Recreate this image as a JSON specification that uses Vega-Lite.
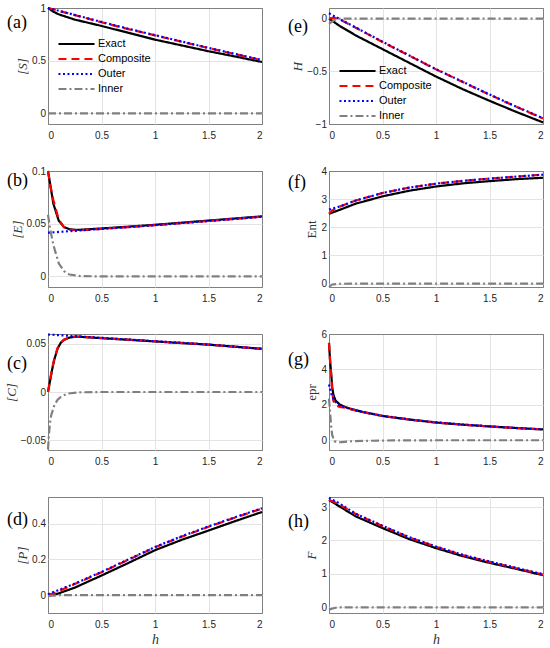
{
"$schema": "https://vega.github.io/schema/vega-lite/v6.json",
"padding": {"left": 4, "top": 2, "right": 4, "bottom": 0},
"columns": 2,
"bounds": "flush",
"spacing": {"row": 47, "column": 67},
"resolve": {"scale": {"color": "independent", "strokeDash": "independent"}},
"config": {
  "view": {"stroke": "#808080", "strokeWidth": 1},
  "axis": {"grid": true, "gridColor": "#e3e3e3", "ticks": false, "domain": false, "format": "~g", "labelFont": "Liberation Sans", "labelFontSize": 10, "labelColor": "#262626", "titleFont": "Liberation Serif", "titleFontSize": 13, "titleFontWeight": "normal", "titleColor": "#333333"},
  "axisY": {"titleFontStyle": "italic", "titlePadding": 2, "labelPadding": 2.5},
  "axisX": {"titleFontStyle": "italic", "titlePadding": 3, "titleFontSize": 14, "labelPadding": 6},
  "title": {"font": "Liberation Serif", "fontSize": 18, "fontWeight": "normal", "color": "#000000", "anchor": "start", "frame": "group", "baseline": "top", "dx": -41, "offset": 0},
  "line": {"strokeWidth": 2.2, "clip": true}
},
"datasets": {
"a": [
{"s":"Exact","h":0,"v":1},{"s":"Exact","h":0.05,"v":0.965},{"s":"Exact","h":0.1,"v":0.94},{"s":"Exact","h":0.25,"v":0.89},{"s":"Exact","h":0.5,"v":0.83},{"s":"Exact","h":0.75,"v":0.765},{"s":"Exact","h":1,"v":0.7},{"s":"Exact","h":1.25,"v":0.645},{"s":"Exact","h":1.5,"v":0.59},{"s":"Exact","h":1.75,"v":0.54},{"s":"Exact","h":2,"v":0.488},
{"s":"Composite","h":0,"v":1},{"s":"Composite","h":0.05,"v":0.988},{"s":"Composite","h":0.1,"v":0.973},{"s":"Composite","h":0.25,"v":0.933},{"s":"Composite","h":0.5,"v":0.865},{"s":"Composite","h":0.75,"v":0.8},{"s":"Composite","h":1,"v":0.74},{"s":"Composite","h":1.25,"v":0.68},{"s":"Composite","h":1.5,"v":0.62},{"s":"Composite","h":1.75,"v":0.562},{"s":"Composite","h":2,"v":0.505},
{"s":"Outer","h":0,"v":1},{"s":"Outer","h":0.25,"v":0.935},{"s":"Outer","h":0.5,"v":0.868},{"s":"Outer","h":0.75,"v":0.803},{"s":"Outer","h":1,"v":0.742},{"s":"Outer","h":1.25,"v":0.682},{"s":"Outer","h":1.5,"v":0.622},{"s":"Outer","h":1.75,"v":0.564},{"s":"Outer","h":2,"v":0.507},
{"s":"Inner","h":0,"v":0},{"s":"Inner","h":0.5,"v":0},{"s":"Inner","h":1,"v":0},{"s":"Inner","h":1.5,"v":0},{"s":"Inner","h":2,"v":0}
],
"e": [
{"s":"Exact","h":0,"v":0},{"s":"Exact","h":0.1,"v":-0.07},{"s":"Exact","h":0.25,"v":-0.16},{"s":"Exact","h":0.5,"v":-0.29},{"s":"Exact","h":0.75,"v":-0.42},{"s":"Exact","h":1,"v":-0.55},{"s":"Exact","h":1.25,"v":-0.67},{"s":"Exact","h":1.5,"v":-0.78},{"s":"Exact","h":1.75,"v":-0.885},{"s":"Exact","h":2,"v":-0.985},
{"s":"Composite","h":0,"v":0},{"s":"Composite","h":0.05,"v":0.008},{"s":"Composite","h":0.1,"v":-0.008},{"s":"Composite","h":0.25,"v":-0.087},{"s":"Composite","h":0.5,"v":-0.222},{"s":"Composite","h":0.75,"v":-0.352},{"s":"Composite","h":1,"v":-0.482},{"s":"Composite","h":1.25,"v":-0.602},{"s":"Composite","h":1.5,"v":-0.722},{"s":"Composite","h":1.75,"v":-0.837},{"s":"Composite","h":2,"v":-0.947},
{"s":"Outer","h":0,"v":0.05},{"s":"Outer","h":0.05,"v":0.022},{"s":"Outer","h":0.1,"v":-0.005},{"s":"Outer","h":0.25,"v":-0.085},{"s":"Outer","h":0.5,"v":-0.22},{"s":"Outer","h":0.75,"v":-0.35},{"s":"Outer","h":1,"v":-0.48},{"s":"Outer","h":1.25,"v":-0.6},{"s":"Outer","h":1.5,"v":-0.72},{"s":"Outer","h":1.75,"v":-0.835},{"s":"Outer","h":2,"v":-0.945},
{"s":"Inner","h":0,"v":-0.05},{"s":"Inner","h":0.05,"v":-0.014},{"s":"Inner","h":0.1,"v":0},{"s":"Inner","h":0.5,"v":0},{"s":"Inner","h":1,"v":0},{"s":"Inner","h":1.5,"v":0},{"s":"Inner","h":2,"v":0}
],
"b": [
{"s":"Exact","h":0,"v":0.1},{"s":"Exact","h":0.02,"v":0.088},{"s":"Exact","h":0.05,"v":0.069},{"s":"Exact","h":0.1,"v":0.053},{"s":"Exact","h":0.15,"v":0.0468},{"s":"Exact","h":0.2,"v":0.0448},{"s":"Exact","h":0.25,"v":0.0443},{"s":"Exact","h":0.3,"v":0.0443},{"s":"Exact","h":0.5,"v":0.0455},{"s":"Exact","h":0.75,"v":0.0472},{"s":"Exact","h":1,"v":0.049},{"s":"Exact","h":1.25,"v":0.051},{"s":"Exact","h":1.5,"v":0.053},{"s":"Exact","h":1.75,"v":0.055},{"s":"Exact","h":2,"v":0.057},
{"s":"Composite","h":0,"v":0.1},{"s":"Composite","h":0.02,"v":0.0865},{"s":"Composite","h":0.05,"v":0.0725},{"s":"Composite","h":0.1,"v":0.054},{"s":"Composite","h":0.15,"v":0.0465},{"s":"Composite","h":0.2,"v":0.0445},{"s":"Composite","h":0.25,"v":0.0438},{"s":"Composite","h":0.3,"v":0.0438},{"s":"Composite","h":0.5,"v":0.0451},{"s":"Composite","h":0.75,"v":0.0468},{"s":"Composite","h":1,"v":0.0486},{"s":"Composite","h":1.25,"v":0.0506},{"s":"Composite","h":1.5,"v":0.0526},{"s":"Composite","h":1.75,"v":0.0546},{"s":"Composite","h":2,"v":0.0566},
{"s":"Outer","h":0,"v":0.0415},{"s":"Outer","h":0.25,"v":0.0433},{"s":"Outer","h":0.5,"v":0.0451},{"s":"Outer","h":0.75,"v":0.0468},{"s":"Outer","h":1,"v":0.0486},{"s":"Outer","h":1.25,"v":0.0506},{"s":"Outer","h":1.5,"v":0.0526},{"s":"Outer","h":1.75,"v":0.0546},{"s":"Outer","h":2,"v":0.0566},
{"s":"Inner","h":0,"v":0.0585},{"s":"Inner","h":0.02,"v":0.045},{"s":"Inner","h":0.05,"v":0.03},{"s":"Inner","h":0.1,"v":0.0125},{"s":"Inner","h":0.15,"v":0.005},{"s":"Inner","h":0.2,"v":0.0018},{"s":"Inner","h":0.3,"v":0.0004},{"s":"Inner","h":0.5,"v":0},{"s":"Inner","h":1,"v":0},{"s":"Inner","h":1.5,"v":0},{"s":"Inner","h":2,"v":0}
],
"f": [
{"s":"Exact","h":0,"v":2.48},{"s":"Exact","h":0.1,"v":2.62},{"s":"Exact","h":0.25,"v":2.84},{"s":"Exact","h":0.5,"v":3.1},{"s":"Exact","h":0.75,"v":3.3},{"s":"Exact","h":1,"v":3.45},{"s":"Exact","h":1.25,"v":3.56},{"s":"Exact","h":1.5,"v":3.64},{"s":"Exact","h":1.75,"v":3.71},{"s":"Exact","h":2,"v":3.76},
{"s":"Composite","h":0,"v":2.48},{"s":"Composite","h":0.03,"v":2.6},{"s":"Composite","h":0.1,"v":2.735},{"s":"Composite","h":0.25,"v":2.95},{"s":"Composite","h":0.5,"v":3.22},{"s":"Composite","h":0.75,"v":3.41},{"s":"Composite","h":1,"v":3.55},{"s":"Composite","h":1.25,"v":3.65},{"s":"Composite","h":1.5,"v":3.73},{"s":"Composite","h":1.75,"v":3.8},{"s":"Composite","h":2,"v":3.87},
{"s":"Outer","h":0,"v":2.63},{"s":"Outer","h":0.1,"v":2.74},{"s":"Outer","h":0.25,"v":2.95},{"s":"Outer","h":0.5,"v":3.22},{"s":"Outer","h":0.75,"v":3.41},{"s":"Outer","h":1,"v":3.55},{"s":"Outer","h":1.25,"v":3.65},{"s":"Outer","h":1.5,"v":3.73},{"s":"Outer","h":1.75,"v":3.8},{"s":"Outer","h":2,"v":3.87},
{"s":"Inner","h":0,"v":-0.12},{"s":"Inner","h":0.03,"v":-0.03},{"s":"Inner","h":0.1,"v":-0.005},{"s":"Inner","h":0.5,"v":0},{"s":"Inner","h":1,"v":0},{"s":"Inner","h":1.5,"v":0},{"s":"Inner","h":2,"v":0}
],
"c": [
{"s":"Exact","h":0,"v":0},{"s":"Exact","h":0.02,"v":0.012},{"s":"Exact","h":0.04,"v":0.024},{"s":"Exact","h":0.06,"v":0.034},{"s":"Exact","h":0.09,"v":0.045},{"s":"Exact","h":0.12,"v":0.051},{"s":"Exact","h":0.15,"v":0.054},{"s":"Exact","h":0.2,"v":0.0563},{"s":"Exact","h":0.25,"v":0.0571},{"s":"Exact","h":0.3,"v":0.0571},{"s":"Exact","h":0.5,"v":0.0557},{"s":"Exact","h":0.75,"v":0.054},{"s":"Exact","h":1,"v":0.0523},{"s":"Exact","h":1.25,"v":0.0506},{"s":"Exact","h":1.5,"v":0.049},{"s":"Exact","h":1.75,"v":0.0468},{"s":"Exact","h":2,"v":0.0446},
{"s":"Composite","h":0,"v":0},{"s":"Composite","h":0.02,"v":0.013},{"s":"Composite","h":0.04,"v":0.025},{"s":"Composite","h":0.06,"v":0.035},{"s":"Composite","h":0.09,"v":0.0455},{"s":"Composite","h":0.12,"v":0.0512},{"s":"Composite","h":0.15,"v":0.0542},{"s":"Composite","h":0.2,"v":0.0564},{"s":"Composite","h":0.25,"v":0.0572},{"s":"Composite","h":0.3,"v":0.0572},{"s":"Composite","h":0.5,"v":0.0559},{"s":"Composite","h":0.75,"v":0.0542},{"s":"Composite","h":1,"v":0.0525},{"s":"Composite","h":1.25,"v":0.0508},{"s":"Composite","h":1.5,"v":0.0491},{"s":"Composite","h":1.75,"v":0.0469},{"s":"Composite","h":2,"v":0.0447},
{"s":"Outer","h":0,"v":0.0595},{"s":"Outer","h":0.25,"v":0.0578},{"s":"Outer","h":0.5,"v":0.056},{"s":"Outer","h":0.75,"v":0.0543},{"s":"Outer","h":1,"v":0.0525},{"s":"Outer","h":1.25,"v":0.0508},{"s":"Outer","h":1.5,"v":0.0491},{"s":"Outer","h":1.75,"v":0.0469},{"s":"Outer","h":2,"v":0.0447},
{"s":"Inner","h":0,"v":-0.0595},{"s":"Inner","h":0.01,"v":-0.042},{"s":"Inner","h":0.02,"v":-0.031},{"s":"Inner","h":0.03,"v":-0.024},{"s":"Inner","h":0.06,"v":-0.0135},{"s":"Inner","h":0.09,"v":-0.008},{"s":"Inner","h":0.12,"v":-0.005},{"s":"Inner","h":0.18,"v":-0.0017},{"s":"Inner","h":0.3,"v":-0.0003},{"s":"Inner","h":0.5,"v":0},{"s":"Inner","h":1,"v":0},{"s":"Inner","h":1.5,"v":0},{"s":"Inner","h":2,"v":0}
],
"g": [
{"s":"Exact","h":0,"v":5.5},{"s":"Exact","h":0.005,"v":5.0},{"s":"Exact","h":0.01,"v":4.5},{"s":"Exact","h":0.02,"v":3.8},{"s":"Exact","h":0.03,"v":3.0},{"s":"Exact","h":0.04,"v":2.6},{"s":"Exact","h":0.06,"v":2.25},{"s":"Exact","h":0.1,"v":2.02},{"s":"Exact","h":0.15,"v":1.88},{"s":"Exact","h":0.2,"v":1.78},{"s":"Exact","h":0.3,"v":1.62},{"s":"Exact","h":0.5,"v":1.37},{"s":"Exact","h":0.75,"v":1.17},{"s":"Exact","h":1,"v":1.0},{"s":"Exact","h":1.25,"v":0.88},{"s":"Exact","h":1.5,"v":0.78},{"s":"Exact","h":1.75,"v":0.69},{"s":"Exact","h":2,"v":0.61},
{"s":"Composite","h":0,"v":5.5},{"s":"Composite","h":0.01,"v":4.5},{"s":"Composite","h":0.02,"v":3.7},{"s":"Composite","h":0.03,"v":2.8},{"s":"Composite","h":0.04,"v":2.25},{"s":"Composite","h":0.06,"v":1.97},{"s":"Composite","h":0.1,"v":1.88},{"s":"Composite","h":0.15,"v":1.84},{"s":"Composite","h":0.2,"v":1.76},{"s":"Composite","h":0.3,"v":1.61},{"s":"Composite","h":0.5,"v":1.37},{"s":"Composite","h":0.75,"v":1.17},{"s":"Composite","h":1,"v":1.0},{"s":"Composite","h":1.25,"v":0.88},{"s":"Composite","h":1.5,"v":0.78},{"s":"Composite","h":1.75,"v":0.69},{"s":"Composite","h":2,"v":0.61},
{"s":"Outer","h":0,"v":3.15},{"s":"Outer","h":0.01,"v":2.9},{"s":"Outer","h":0.02,"v":2.65},{"s":"Outer","h":0.04,"v":2.35},{"s":"Outer","h":0.07,"v":2.1},{"s":"Outer","h":0.1,"v":1.97},{"s":"Outer","h":0.15,"v":1.86},{"s":"Outer","h":0.2,"v":1.77},{"s":"Outer","h":0.3,"v":1.62},{"s":"Outer","h":0.5,"v":1.38},{"s":"Outer","h":0.75,"v":1.18},{"s":"Outer","h":1,"v":1.01},{"s":"Outer","h":1.25,"v":0.89},{"s":"Outer","h":1.5,"v":0.785},{"s":"Outer","h":1.75,"v":0.695},{"s":"Outer","h":2,"v":0.615},
{"s":"Inner","h":0,"v":2.35},{"s":"Inner","h":0.01,"v":1.6},{"s":"Inner","h":0.02,"v":0.8},{"s":"Inner","h":0.03,"v":0.3},{"s":"Inner","h":0.05,"v":-0.05},{"s":"Inner","h":0.08,"v":-0.12},{"s":"Inner","h":0.12,"v":-0.1},{"s":"Inner","h":0.2,"v":-0.06},{"s":"Inner","h":0.35,"v":-0.03},{"s":"Inner","h":0.6,"v":-0.01},{"s":"Inner","h":1,"v":0},{"s":"Inner","h":1.5,"v":0},{"s":"Inner","h":2,"v":0}
],
"d": [
{"s":"Exact","h":0,"v":0},{"s":"Exact","h":0.05,"v":0.002},{"s":"Exact","h":0.1,"v":0.01},{"s":"Exact","h":0.25,"v":0.042},{"s":"Exact","h":0.5,"v":0.11},{"s":"Exact","h":0.75,"v":0.18},{"s":"Exact","h":1,"v":0.252},{"s":"Exact","h":1.25,"v":0.31},{"s":"Exact","h":1.5,"v":0.362},{"s":"Exact","h":1.75,"v":0.415},{"s":"Exact","h":2,"v":0.466},
{"s":"Composite","h":0,"v":0},{"s":"Composite","h":0.05,"v":0.01},{"s":"Composite","h":0.1,"v":0.022},{"s":"Composite","h":0.25,"v":0.062},{"s":"Composite","h":0.5,"v":0.128},{"s":"Composite","h":0.75,"v":0.198},{"s":"Composite","h":1,"v":0.268},{"s":"Composite","h":1.25,"v":0.328},{"s":"Composite","h":1.5,"v":0.383},{"s":"Composite","h":1.75,"v":0.435},{"s":"Composite","h":2,"v":0.485},
{"s":"Outer","h":0,"v":0.005},{"s":"Outer","h":0.25,"v":0.065},{"s":"Outer","h":0.5,"v":0.13},{"s":"Outer","h":0.75,"v":0.2},{"s":"Outer","h":1,"v":0.27},{"s":"Outer","h":1.25,"v":0.33},{"s":"Outer","h":1.5,"v":0.385},{"s":"Outer","h":1.75,"v":0.437},{"s":"Outer","h":2,"v":0.487},
{"s":"Inner","h":0,"v":-0.005},{"s":"Inner","h":0.1,"v":0},{"s":"Inner","h":0.5,"v":0},{"s":"Inner","h":1,"v":0},{"s":"Inner","h":1.5,"v":0},{"s":"Inner","h":2,"v":0}
],
"h": [
{"s":"Exact","h":0,"v":3.21},{"s":"Exact","h":0.25,"v":2.72},{"s":"Exact","h":0.5,"v":2.37},{"s":"Exact","h":0.75,"v":2.04},{"s":"Exact","h":1,"v":1.77},{"s":"Exact","h":1.25,"v":1.53},{"s":"Exact","h":1.5,"v":1.33},{"s":"Exact","h":1.75,"v":1.15},{"s":"Exact","h":2,"v":0.96},
{"s":"Composite","h":0,"v":3.21},{"s":"Composite","h":0.05,"v":3.15},{"s":"Composite","h":0.1,"v":3.07},{"s":"Composite","h":0.25,"v":2.79},{"s":"Composite","h":0.5,"v":2.43},{"s":"Composite","h":0.75,"v":2.09},{"s":"Composite","h":1,"v":1.81},{"s":"Composite","h":1.25,"v":1.56},{"s":"Composite","h":1.5,"v":1.36},{"s":"Composite","h":1.75,"v":1.17},{"s":"Composite","h":2,"v":0.98},
{"s":"Outer","h":0,"v":3.28},{"s":"Outer","h":0.1,"v":3.1},{"s":"Outer","h":0.25,"v":2.8},{"s":"Outer","h":0.5,"v":2.44},{"s":"Outer","h":0.75,"v":2.1},{"s":"Outer","h":1,"v":1.82},{"s":"Outer","h":1.25,"v":1.57},{"s":"Outer","h":1.5,"v":1.37},{"s":"Outer","h":1.75,"v":1.18},{"s":"Outer","h":2,"v":0.99},
{"s":"Inner","h":0,"v":-0.07},{"s":"Inner","h":0.05,"v":-0.02},{"s":"Inner","h":0.1,"v":0},{"s":"Inner","h":0.5,"v":0},{"s":"Inner","h":1,"v":0},{"s":"Inner","h":1.5,"v":0},{"s":"Inner","h":2,"v":0}
]
},
"concat": [
{"width": 214, "height": 116, "data": {"name": "a"},
 "title": {"text": "(a)", "dy": 33},
 "mark": {"type": "line"},
 "encoding": {
  "x": {"field": "h", "type": "quantitative", "scale": {"domain": [0, 2]}, "axis": {"values": [0, 0.5, 1, 1.5, 2], "title": null, "gridColor": {"condition": {"test": "datum.value == 0 || datum.value == 2", "value": "#808080"}, "value": "#e3e3e3"}}},
  "y": {"field": "v", "type": "quantitative", "scale": {"domain": [-0.1, 1]}, "axis": {"values": [0, 0.5, 1], "title": "[S]", "gridColor": {"condition": {"test": "datum.value == 1", "value": "#808080"}, "value": "#e3e3e3"}}},
  "color": {"field": "s", "type": "nominal", "scale": {"domain": ["Exact", "Composite", "Outer", "Inner"], "range": ["#000000", "#ff0000", "#0000ff", "#808080"]}, "legend": {"orient": "none", "legendX": 9, "legendY": 29, "title": null, "symbolType": "stroke", "symbolSize": 1300, "symbolStrokeWidth": 2.2, "labelFont": "Liberation Sans", "labelFontSize": 11, "labelColor": "#000000", "rowPadding": 1, "labelOffset": 2, "clipHeight": 14}},
  "strokeDash": {"field": "s", "type": "nominal", "scale": {"domain": ["Exact", "Composite", "Outer", "Inner"], "range": [[1, 0], [8, 5], [2, 2.5], [8, 3, 2, 3]]}, "legend": {"orient": "none", "legendX": 9, "legendY": 29, "title": null, "symbolType": "stroke", "symbolSize": 1300, "symbolStrokeWidth": 2.2, "labelFont": "Liberation Sans", "labelFontSize": 11, "labelColor": "#000000", "rowPadding": 1, "labelOffset": 2, "clipHeight": 14}}
 }},
{"width": 214, "height": 116, "data": {"name": "e"},
 "title": {"text": "(e)", "dy": 32},
 "mark": {"type": "line"},
 "encoding": {
  "x": {"field": "h", "type": "quantitative", "scale": {"domain": [0, 2]}, "axis": {"values": [0, 0.5, 1, 1.5, 2], "title": null, "gridColor": {"condition": {"test": "datum.value == 0 || datum.value == 2", "value": "#808080"}, "value": "#e3e3e3"}}},
  "y": {"field": "v", "type": "quantitative", "scale": {"domain": [-1, 0.1]}, "axis": {"values": [-1, -0.5, 0], "title": "H", "gridColor": {"condition": {"test": "datum.value == -1", "value": "#808080"}, "value": "#e3e3e3"}}},
  "color": {"field": "s", "type": "nominal", "scale": {"domain": ["Exact", "Composite", "Outer", "Inner"], "range": ["#000000", "#ff0000", "#0000ff", "#808080"]}, "legend": {"orient": "none", "legendX": 9, "legendY": 56, "title": null, "symbolType": "stroke", "symbolSize": 1300, "symbolStrokeWidth": 2.2, "labelFont": "Liberation Sans", "labelFontSize": 11, "labelColor": "#000000", "rowPadding": 1, "labelOffset": 2, "clipHeight": 14}},
  "strokeDash": {"field": "s", "type": "nominal", "scale": {"domain": ["Exact", "Composite", "Outer", "Inner"], "range": [[1, 0], [8, 5], [2, 2.5], [8, 3, 2, 3]]}, "legend": {"orient": "none", "legendX": 9, "legendY": 56, "title": null, "symbolType": "stroke", "symbolSize": 1300, "symbolStrokeWidth": 2.2, "labelFont": "Liberation Sans", "labelFontSize": 11, "labelColor": "#000000", "rowPadding": 1, "labelOffset": 2, "clipHeight": 14}}
 }},
{"width": 214, "height": 116, "data": {"name": "b"},
 "title": {"text": "(b)", "dy": 28},
 "mark": {"type": "line"},
 "encoding": {
  "x": {"field": "h", "type": "quantitative", "scale": {"domain": [0, 2]}, "axis": {"values": [0, 0.5, 1, 1.5, 2], "title": null, "gridColor": {"condition": {"test": "datum.value == 0 || datum.value == 2", "value": "#808080"}, "value": "#e3e3e3"}}},
  "y": {"field": "v", "type": "quantitative", "scale": {"domain": [-0.01, 0.1]}, "axis": {"values": [0, 0.05, 0.1], "title": "[E]", "gridColor": {"condition": {"test": "datum.value == 0.1", "value": "#808080"}, "value": "#e3e3e3"}}},
  "color": {"field": "s", "type": "nominal", "scale": {"domain": ["Exact", "Composite", "Outer", "Inner"], "range": ["#000000", "#ff0000", "#0000ff", "#808080"]}, "legend": null},
  "strokeDash": {"field": "s", "type": "nominal", "scale": {"domain": ["Exact", "Composite", "Outer", "Inner"], "range": [[1, 0], [8, 5], [2, 2.5], [8, 3, 2, 3]]}, "legend": null}
 }},
{"width": 214, "height": 116, "data": {"name": "f"},
 "title": {"text": "(f)", "dy": 30},
 "mark": {"type": "line"},
 "encoding": {
  "x": {"field": "h", "type": "quantitative", "scale": {"domain": [0, 2]}, "axis": {"values": [0, 0.5, 1, 1.5, 2], "title": null, "gridColor": {"condition": {"test": "datum.value == 0 || datum.value == 2", "value": "#808080"}, "value": "#e3e3e3"}}},
  "y": {"field": "v", "type": "quantitative", "scale": {"domain": [-0.12, 4]}, "axis": {"values": [0, 1, 2, 3, 4], "title": "Ent", "titleFontStyle": "normal", "gridColor": {"condition": {"test": "datum.value == 4", "value": "#808080"}, "value": "#e3e3e3"}}},
  "color": {"field": "s", "type": "nominal", "scale": {"domain": ["Exact", "Composite", "Outer", "Inner"], "range": ["#000000", "#ff0000", "#0000ff", "#808080"]}, "legend": null},
  "strokeDash": {"field": "s", "type": "nominal", "scale": {"domain": ["Exact", "Composite", "Outer", "Inner"], "range": [[1, 0], [8, 5], [2, 2.5], [8, 3, 2, 3]]}, "legend": null}
 }},
{"width": 214, "height": 116, "data": {"name": "c"},
 "title": {"text": "(c)", "dy": 47},
 "mark": {"type": "line"},
 "encoding": {
  "x": {"field": "h", "type": "quantitative", "scale": {"domain": [0, 2]}, "axis": {"values": [0, 0.5, 1, 1.5, 2], "title": null, "gridColor": {"condition": {"test": "datum.value == 0 || datum.value == 2", "value": "#808080"}, "value": "#e3e3e3"}}},
  "y": {"field": "v", "type": "quantitative", "scale": {"domain": [-0.06, 0.06]}, "axis": {"values": [-0.05, 0, 0.05], "title": "[C]"}},
  "color": {"field": "s", "type": "nominal", "scale": {"domain": ["Exact", "Composite", "Outer", "Inner"], "range": ["#000000", "#ff0000", "#0000ff", "#808080"]}, "legend": null},
  "strokeDash": {"field": "s", "type": "nominal", "scale": {"domain": ["Exact", "Composite", "Outer", "Inner"], "range": [[1, 0], [8, 5], [2, 2.5], [8, 3, 2, 3]]}, "legend": null}
 }},
{"width": 214, "height": 116, "data": {"name": "g"},
 "title": {"text": "(g)", "dy": 44},
 "mark": {"type": "line"},
 "encoding": {
  "x": {"field": "h", "type": "quantitative", "scale": {"domain": [0, 2]}, "axis": {"values": [0, 0.5, 1, 1.5, 2], "title": null, "gridColor": {"condition": {"test": "datum.value == 0 || datum.value == 2", "value": "#808080"}, "value": "#e3e3e3"}}},
  "y": {"field": "v", "type": "quantitative", "scale": {"domain": [-0.55, 6]}, "axis": {"values": [0, 2, 4, 6], "title": "epr", "titleFontStyle": "normal", "gridColor": {"condition": {"test": "datum.value == 6", "value": "#808080"}, "value": "#e3e3e3"}}},
  "color": {"field": "s", "type": "nominal", "scale": {"domain": ["Exact", "Composite", "Outer", "Inner"], "range": ["#000000", "#ff0000", "#0000ff", "#808080"]}, "legend": null},
  "strokeDash": {"field": "s", "type": "nominal", "scale": {"domain": ["Exact", "Composite", "Outer", "Inner"], "range": [[1, 0], [8, 5], [2, 2.5], [8, 3, 2, 3]]}, "legend": null}
 }},
{"width": 214, "height": 116, "data": {"name": "d"},
 "title": {"text": "(d)", "dy": 36},
 "mark": {"type": "line"},
 "encoding": {
  "x": {"field": "h", "type": "quantitative", "scale": {"domain": [0, 2]}, "axis": {"values": [0, 0.5, 1, 1.5, 2], "title": "h", "gridColor": {"condition": {"test": "datum.value == 0 || datum.value == 2", "value": "#808080"}, "value": "#e3e3e3"}}},
  "y": {"field": "v", "type": "quantitative", "scale": {"domain": [-0.1, 0.55]}, "axis": {"values": [0, 0.2, 0.4], "title": "[P]"}},
  "color": {"field": "s", "type": "nominal", "scale": {"domain": ["Exact", "Composite", "Outer", "Inner"], "range": ["#000000", "#ff0000", "#0000ff", "#808080"]}, "legend": null},
  "strokeDash": {"field": "s", "type": "nominal", "scale": {"domain": ["Exact", "Composite", "Outer", "Inner"], "range": [[1, 0], [8, 5], [2, 2.5], [8, 3, 2, 3]]}, "legend": null}
 }},
{"width": 214, "height": 116, "data": {"name": "h"},
 "title": {"text": "(h)", "dy": 42},
 "mark": {"type": "line"},
 "encoding": {
  "x": {"field": "h", "type": "quantitative", "scale": {"domain": [0, 2]}, "axis": {"values": [0, 0.5, 1, 1.5, 2], "title": "h", "gridColor": {"condition": {"test": "datum.value == 0 || datum.value == 2", "value": "#808080"}, "value": "#e3e3e3"}}},
  "y": {"field": "v", "type": "quantitative", "scale": {"domain": [-0.17, 3.3]}, "axis": {"values": [0, 1, 2, 3], "title": "F"}},
  "color": {"field": "s", "type": "nominal", "scale": {"domain": ["Exact", "Composite", "Outer", "Inner"], "range": ["#000000", "#ff0000", "#0000ff", "#808080"]}, "legend": null},
  "strokeDash": {"field": "s", "type": "nominal", "scale": {"domain": ["Exact", "Composite", "Outer", "Inner"], "range": [[1, 0], [8, 5], [2, 2.5], [8, 3, 2, 3]]}, "legend": null}
 }}
]
}
